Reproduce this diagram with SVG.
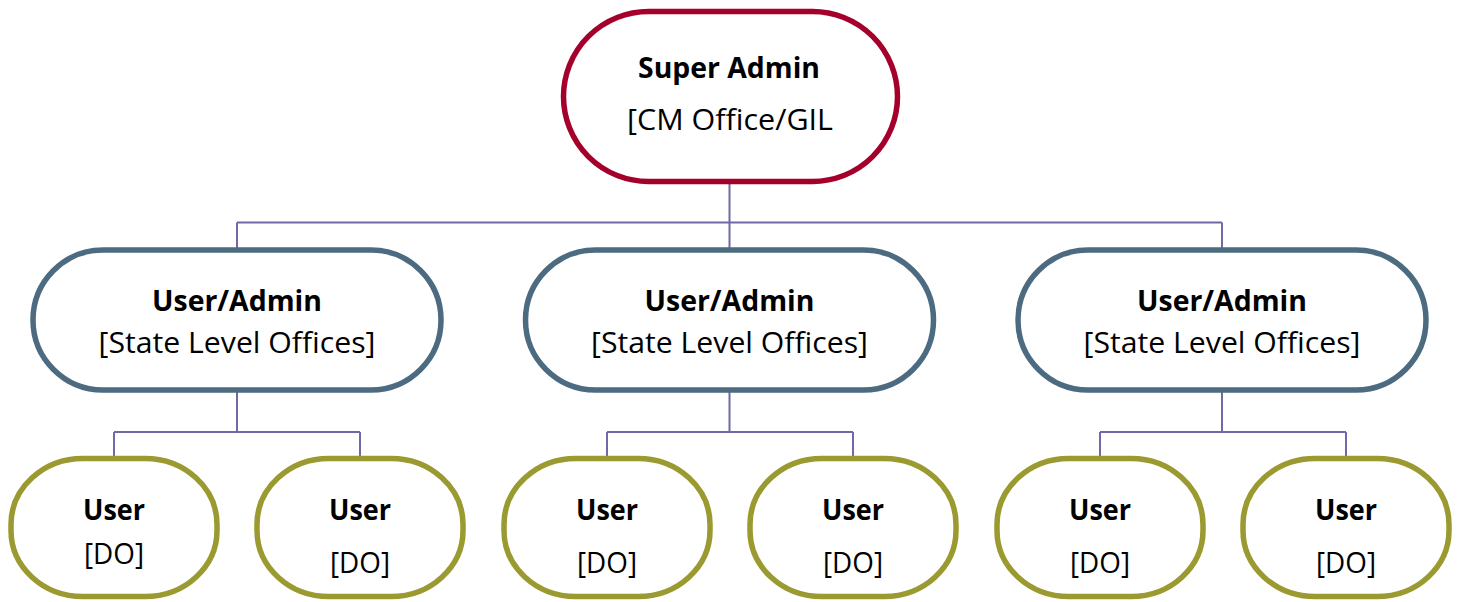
<svg xmlns="http://www.w3.org/2000/svg" width="1458" height="602" viewBox="0 0 1458 602">
<style>
.bg{fill:#ffffff}
.top{fill:#ffffff;stroke:#A4002B;stroke-width:5.5}
.mid{fill:#ffffff;stroke:#4C6B80;stroke-width:5.5}
.leaf{fill:#ffffff;stroke:#9A9A30;stroke-width:5.5}
.conn{fill:none;stroke:#6E6AA8;stroke-width:2}
text{font-family:"Open Sans","DejaVu Sans",sans-serif;fill:#000000;text-anchor:middle}
.b{font-weight:bold;font-size:29px}
.r{font-size:29px}
</style>
<rect class="bg" x="0" y="0" width="1458" height="602"/>
<g id="connectors">
<path class="conn" d="M729.5 182 V222.5 M237 222.5 H1222 M237 222.5 V250 M729.5 222.5 V250 M1222 222.5 V250"/>
<path class="conn" d="M237 391 V432 M114 432 H360 M114 432 V459 M360 432 V459"/>
<path class="conn" d="M729.5 391 V432 M607 432 H853 M607 432 V459 M853 432 V459"/>
<path class="conn" d="M1222 391 V432 M1100 432 H1346 M1100 432 V459 M1346 432 V459"/>
</g>
<g id="super-admin">
<rect class="top" x="563.5" y="11.5" width="334" height="170" rx="85" ry="85"/>
<text class="b" x="729" y="78" textLength="182" lengthAdjust="spacingAndGlyphs">Super Admin</text>
<text class="r" x="730" y="130" textLength="206" lengthAdjust="spacingAndGlyphs">[CM Office/GIL</text>
</g>
<g id="admin-1">
<rect class="mid" x="33" y="250" width="408" height="140" rx="70" ry="70"/>
<text class="b" x="237" y="311" textLength="170" lengthAdjust="spacingAndGlyphs">User/Admin</text>
<text class="r" x="237" y="353" textLength="277" lengthAdjust="spacingAndGlyphs">[State Level Offices]</text>
</g>
<g id="admin-2">
<rect class="mid" x="525.5" y="250" width="408" height="140" rx="70" ry="70"/>
<text class="b" x="729.5" y="311" textLength="170" lengthAdjust="spacingAndGlyphs">User/Admin</text>
<text class="r" x="729.5" y="353" textLength="277" lengthAdjust="spacingAndGlyphs">[State Level Offices]</text>
</g>
<g id="admin-3">
<rect class="mid" x="1018" y="250" width="408" height="140" rx="70" ry="70"/>
<text class="b" x="1222" y="311" textLength="170" lengthAdjust="spacingAndGlyphs">User/Admin</text>
<text class="r" x="1222" y="353" textLength="277" lengthAdjust="spacingAndGlyphs">[State Level Offices]</text>
</g>
<g id="user-1">
<rect class="leaf" x="11" y="458.5" width="206" height="138" rx="72" ry="66"/>
<text class="b" x="114" y="520" textLength="62" lengthAdjust="spacingAndGlyphs">User</text>
<text class="r" x="114" y="564" textLength="60" lengthAdjust="spacingAndGlyphs">[DO]</text>
</g>
<g id="user-2">
<rect class="leaf" x="257" y="458.5" width="206" height="138" rx="72" ry="66"/>
<text class="b" x="360" y="520" textLength="62" lengthAdjust="spacingAndGlyphs">User</text>
<text class="r" x="360" y="573" textLength="60" lengthAdjust="spacingAndGlyphs">[DO]</text>
</g>
<g id="user-3">
<rect class="leaf" x="504" y="458.5" width="206" height="138" rx="72" ry="66"/>
<text class="b" x="607" y="520" textLength="62" lengthAdjust="spacingAndGlyphs">User</text>
<text class="r" x="607" y="573" textLength="60" lengthAdjust="spacingAndGlyphs">[DO]</text>
</g>
<g id="user-4">
<rect class="leaf" x="750" y="458.5" width="206" height="138" rx="72" ry="66"/>
<text class="b" x="853" y="520" textLength="62" lengthAdjust="spacingAndGlyphs">User</text>
<text class="r" x="853" y="573" textLength="60" lengthAdjust="spacingAndGlyphs">[DO]</text>
</g>
<g id="user-5">
<rect class="leaf" x="997" y="458.5" width="206" height="138" rx="72" ry="66"/>
<text class="b" x="1100" y="520" textLength="62" lengthAdjust="spacingAndGlyphs">User</text>
<text class="r" x="1100" y="573" textLength="60" lengthAdjust="spacingAndGlyphs">[DO]</text>
</g>
<g id="user-6">
<rect class="leaf" x="1243" y="458.5" width="206" height="138" rx="72" ry="66"/>
<text class="b" x="1346" y="520" textLength="62" lengthAdjust="spacingAndGlyphs">User</text>
<text class="r" x="1346" y="573" textLength="60" lengthAdjust="spacingAndGlyphs">[DO]</text>
</g>
</svg>
